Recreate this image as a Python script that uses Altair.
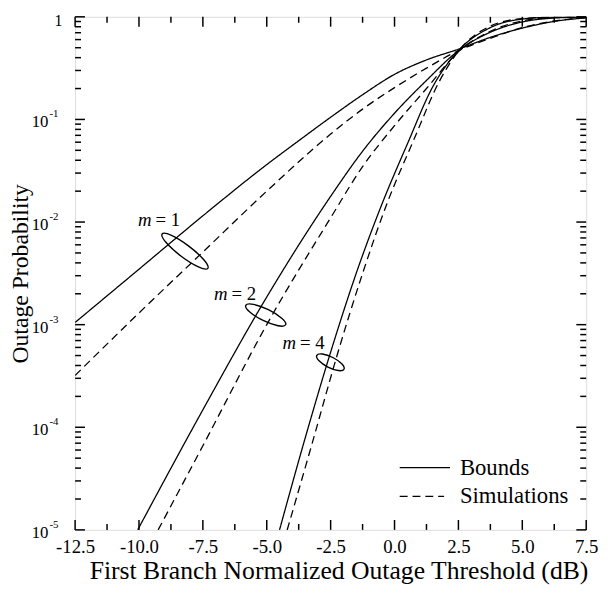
import altair as alt
import pandas as pd

FONT = "Liberation Serif"
W, H = 518, 520

# ---- data (x in dB, p = outage probability) ----
b1_x = [-12.5, -10, -7.5, -5, -3.75, -2.5, -1.25, 0, 1.25, 2.5, 3.75, 5, 6.25, 7.5]
b1_p = [1.05e-3, 3.47e-3, 1.15e-2, 3.63e-2, 6.2e-2, 0.105, 0.174, 0.275, 0.38, 0.484, 0.631, 0.776, 0.902, 0.977]
s1_x = [-12.5, -10, -7.5, -5, -2.5, -1.25, 0, 1.25, 2.5, 3.75, 5, 6.25, 7.5]
s1_p = [3.2e-4, 1.3e-3, 5.1e-3, 2.0e-2, 7.2e-2, 0.126, 0.204, 0.316, 0.468, 0.617, 0.785, 0.912, 0.982]
b2_x = [-10.05, -7.5, -5, -2.5, -1.25, 0, 1.25, 2.5, 3.75, 5, 6.25, 7.5]
b2_p = [1.0e-5, 1.48e-4, 1.86e-3, 1.78e-2, 4.9e-2, 0.115, 0.24, 0.468, 0.708, 0.891, 0.973, 0.995]
s2_x = [-9.25, -7.5, -5, -2.5, -1.25, 0, 1.25, 2.5, 3.75, 5, 6.25, 7.5]
s2_p = [1.0e-5, 6.6e-5, 1.0e-3, 1.1e-2, 3.47e-2, 8.7e-2, 0.2, 0.457, 0.724, 0.912, 0.982, 0.997]
b4_x = [-4.5, -3.5, -2.5, -1.5, -0.5, 0.5, 1.5, 2.5, 3.75, 5, 6.25, 7.5]
b4_p = [1e-5, 7.8e-5, 5.4e-4, 3.16e-3, 1.48e-2, 5.75e-2, 0.209, 0.468, 0.785, 0.951, 0.993, 0.9991]
s4_x = [-4.2, -3.25, -2.25, -1.25, -0.25, 0.75, 1.75, 2.5, 3.75, 5, 6.25, 7.5]
s4_p = [1e-5, 6.6e-5, 5.0e-4, 3.16e-3, 1.62e-2, 6.3e-2, 0.234, 0.462, 0.812, 0.962, 0.9954, 0.9993]

# annotations (ellipse centres and "m = k" labels)
ell_x = [-8.2, -5.04, -2.51]
ell_p = [5.2e-3, 1.24e-3, 4.3e-4]
lab_x = [-9.51, -6.535, -3.85]
lab_p = [9.16e-3, 1.74e-3, 5.75e-4]
lab_num = ["= 1", "= 2", "= 4"]

# axis ticks / labels
x_ticks = [-12.5, -10.0, -7.5, -5.0, -2.5, 0.0, 2.5, 5.0, 7.5]
y_ticks = [1, 1e-1, 1e-2, 1e-3, 1e-4, 1e-5]
y_base = ["1", "10", "10", "10", "10", "10"]
y_exp = ["", "-1", "-2", "-3", "-4", "-5"]
legend_labels = ["Bounds", "Simulations"]

# ---- build tables ----
rows = []
for m, kind, xv, pv in [
    ("1", "Bounds", b1_x, b1_p), ("1", "Simulations", s1_x, s1_p),
    ("2", "Bounds", b2_x, b2_p), ("2", "Simulations", s2_x, s2_p),
    ("4", "Bounds", b4_x, b4_p), ("4", "Simulations", s4_x, s4_p),
]:
    for x, p in zip(xv, pv):
        rows.append({"x": x, "p": p, "m": m, "kind": kind})
curves = pd.DataFrame(rows)

xs = alt.Scale(domain=[-12.5, 7.5], nice=False, zero=False)
ys = alt.Scale(type="log", domain=[1e-5, 1], nice=False)

XAXIS = alt.Axis(
    values=x_ticks, labelExpr="replace(format(datum.value, '.1f'), '\u2212', '-')",
    ticks=False, domain=False, grid=False, labelPadding=8, labelFontSize=19, labelFont=FONT,
    labelColor="black", labelFontWeight="normal", labelFlush=False, labelOverlap=False,
    labelBound=False,
    title="First Branch Normalized Outage Threshold (dB)", titleX=W / 2 + 8,
    titleFont=FONT, titleFontSize=26, titleFontWeight="normal", titleColor="black", titlePadding=1)
YAXIS = alt.Axis(
    labels=False, ticks=False, domain=False, grid=False, title="Outage Probability",
    titleFont=FONT, titleFontSize=24, titleFontWeight="normal", titleColor="black", titlePadding=43)


def X(field):
    return alt.X(field, scale=xs, axis=XAXIS)


def Y(field):
    return alt.Y(field, scale=ys, axis=YAXIS)


lines = alt.Chart(curves).mark_line(interpolate="monotone", color="black", strokeWidth=1.3, clip=True).encode(
    x=X("x:Q"),
    y=Y("p:Q"),
    strokeDash=alt.StrokeDash("kind:N", scale=alt.Scale(domain=legend_labels, range=[[1, 0], [8, 5]]), legend=None),
    detail="m:N",
    order="x:Q",
)

# inward tick marks on all four sides
x_minor = [(a + b) / 2 for a, b in zip(x_ticks[:-1], x_ticks[1:])]
y_minor = [k * d for d in [1e-5, 1e-4, 1e-3, 1e-2, 1e-1] for k in range(2, 10)]
xt_major = pd.DataFrame({"x": x_ticks})
xt_minor = pd.DataFrame({"x": x_minor})
yt_major = pd.DataFrame({"p": y_ticks})
yt_minor = pd.DataFrame({"p": y_minor})

tick_layers = []
for df, L in [(xt_major, 10), (xt_minor, 6)]:
    base = alt.Chart(df).mark_rule(color="black", strokeWidth=1.5)
    tick_layers.append(base.encode(x=X("x:Q"), y=alt.value(H), y2=alt.value(H - L)))
    tick_layers.append(base.encode(x=X("x:Q"), y=alt.value(0), y2=alt.value(L)))
for df, L in [(yt_major, 10), (yt_minor, 6)]:
    base = alt.Chart(df).mark_rule(color="black", strokeWidth=1.5)
    tick_layers.append(base.encode(y=Y("p:Q"), x=alt.value(0), x2=alt.value(L)))
    tick_layers.append(base.encode(y=Y("p:Q"), x=alt.value(W), x2=alt.value(W - L)))

# y tick labels 1, 10^-1 ... 10^-5
ylab = pd.DataFrame({"p": y_ticks, "base": y_base, "exp": y_exp})
ylab_one = alt.Chart(ylab[ylab.base == "1"]).mark_text(
    font=FONT, fontSize=16, align="right", baseline="middle", dy=4, color="black").encode(
    y=Y("p:Q"), x=alt.value(-13), text="base:N")
ylab_ten = alt.Chart(ylab[ylab.base == "10"]).mark_text(
    font=FONT, fontSize=17, align="right", baseline="middle", dy=3, color="black").encode(
    y=Y("p:Q"), x=alt.value(-27), text="base:N")
ylab_exp = alt.Chart(ylab[ylab.base == "10"]).mark_text(
    font=FONT, fontSize=11, align="left", baseline="middle", dy=-5, color="black").encode(
    y=Y("p:Q"), x=alt.value(-26), text="exp:N")

# annotations
ann = pd.DataFrame({"x": ell_x, "p": ell_p, "lx": lab_x, "lp": lab_p, "num": lab_num, "m": ["m"] * 3})
ell_shapes = [
    ("M -1 0 A 1 0.22 0 1 0 1 0 A 1 0.22 0 1 0 -1 0 Z", 3364, 37),
    ("M -1 0 A 1 0.27 0 1 0 1 0 A 1 0.27 0 1 0 -1 0 Z", 2025, 26),
    ("M -1 0 A 1 0.35 0 1 0 1 0 A 1 0.35 0 1 0 -1 0 Z", 961, 27),
]
ell_layers = []
for i, (shape, size, ang) in enumerate(ell_shapes):
    ell_layers.append(alt.Chart(ann.iloc[[i]]).mark_point(
        shape=shape, size=size, angle=ang, filled=False, stroke="black", strokeWidth=1.4, opacity=1).encode(
        x=X("x:Q"), y=Y("p:Q")))

lab_m = alt.Chart(ann).mark_text(font=FONT, fontSize=19, fontStyle="italic", align="right",
                                 baseline="alphabetic", color="black").encode(
    x=X("lx:Q"), y=Y("lp:Q"), text="m:N")
lab_n = alt.Chart(ann).mark_text(font=FONT, fontSize=19, align="left", baseline="alphabetic",
                                 dx=4, color="black").encode(
    x=X("lx:Q"), y=Y("lp:Q"), text="num:N")

# legend (drawn inside the plot)
leg = pd.DataFrame({"t": legend_labels})
leg_layers = [
    alt.Chart(leg.iloc[[0]]).mark_rule(color="black", strokeWidth=1.3).encode(
        x=alt.value(329), x2=alt.value(380), y=alt.value(457)),
    alt.Chart(leg.iloc[[1]]).mark_rule(color="black", strokeWidth=1.3, strokeDash=[8, 5]).encode(
        x=alt.value(329), x2=alt.value(374), y=alt.value(486)),
    alt.Chart(leg.iloc[[0]]).mark_text(font=FONT, fontSize=23, align="left", baseline="middle", color="black").encode(
        x=alt.value(390), y=alt.value(457), text="t:N"),
    alt.Chart(leg.iloc[[1]]).mark_text(font=FONT, fontSize=23, align="left", baseline="middle", color="black").encode(
        x=alt.value(390), y=alt.value(486), text="t:N"),
]

chart = alt.layer(lines, *tick_layers, ylab_one, ylab_ten, ylab_exp, *ell_layers, lab_m, lab_n, *leg_layers).properties(
    width=W, height=H,
    autosize=alt.AutoSizeParams(type="none"),
    padding={"left": 68, "top": 5, "right": 14, "bottom": 58},
).configure_view(stroke="black", strokeWidth=2).configure(background="white")

chart.save("out.html", embed_options={"renderer": "svg", "actions": False})
